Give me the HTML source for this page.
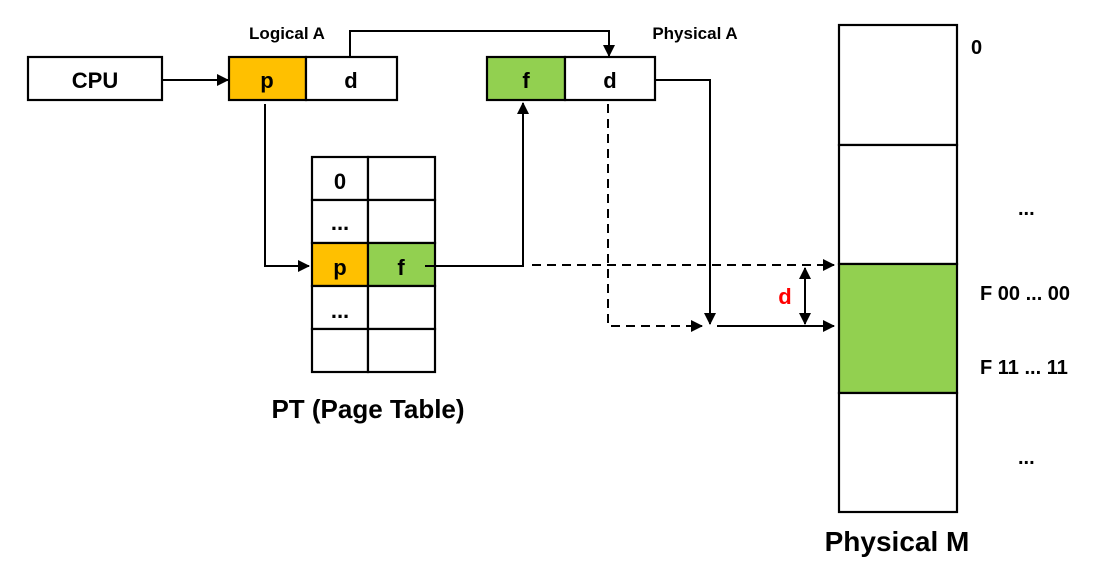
<!DOCTYPE html>
<html><head><meta charset="utf-8"><style>
html,body{margin:0;padding:0;background:#fff;}
svg text{font-family:"Liberation Sans","Noto Sans CJK KR",sans-serif;font-weight:bold;fill:#000;}
</style></head><body>
<svg width="1111" height="572" viewBox="0 0 1111 572" xmlns="http://www.w3.org/2000/svg">
<defs>
<marker id="ar" markerWidth="12" markerHeight="12" refX="11" refY="6" orient="auto" markerUnits="userSpaceOnUse"><path d="M0,0 L12,6 L0,12 Z" fill="#000"/></marker>
<marker id="ars" markerWidth="12" markerHeight="12" refX="1" refY="6" orient="auto" markerUnits="userSpaceOnUse"><path d="M12,0 L0,6 L12,12 Z" fill="#000"/></marker>
</defs>
<g stroke="#000" stroke-width="2.2" fill="#fff">
<rect x="28" y="57" width="134" height="43"/>
<rect x="229" y="57" width="77" height="43" fill="#ffc000"/>
<rect x="306" y="57" width="91" height="43"/>
<rect x="487" y="57" width="78" height="43" fill="#92d050"/>
<rect x="565" y="57" width="90" height="43"/>
<rect x="312" y="157" width="56" height="43"/><rect x="368" y="157" width="67" height="43"/>
<rect x="312" y="200" width="56" height="43"/><rect x="368" y="200" width="67" height="43"/>
<rect x="312" y="243" width="56" height="43" fill="#ffc000"/><rect x="368" y="243" width="67" height="43" fill="#92d050"/>
<rect x="312" y="286" width="56" height="43"/><rect x="368" y="286" width="67" height="43"/>
<rect x="312" y="329" width="56" height="43"/><rect x="368" y="329" width="67" height="43"/>
<rect x="839" y="25" width="118" height="120"/>
<rect x="839" y="145" width="118" height="119"/>
<rect x="839" y="264" width="118" height="129" fill="#92d050"/>
<rect x="839" y="393" width="118" height="119"/>
</g>
<g stroke="#000" stroke-width="2" fill="none">
<line x1="162" y1="80" x2="228" y2="80" marker-end="url(#ar)"/>
<polyline points="350,56 350,31 609,31 609,56" marker-end="url(#ar)"/>
<polyline points="265,104 265,266 309,266" marker-end="url(#ar)"/>
<polyline points="425,266 523,266 523,103" marker-end="url(#ar)"/>
<line x1="532" y1="265" x2="834" y2="265" stroke-dasharray="9,6" marker-end="url(#ar)"/>
<polyline points="608,104 608,326 702,326" stroke-dasharray="9,6" marker-end="url(#ar)"/>
<polyline points="655,80 710,80 710,324" marker-end="url(#ar)"/>
<line x1="717" y1="326" x2="834" y2="326" marker-end="url(#ar)"/>
<line x1="805" y1="268" x2="805" y2="324" marker-start="url(#ars)" marker-end="url(#ar)"/>
</g>
<g font-size="22" text-anchor="middle">
<text x="95" y="88">CPU</text>
<text x="267" y="88">p</text>
<text x="351" y="88">d</text>
<text x="526" y="88">f</text>
<text x="610" y="88">d</text>
<text x="340" y="189">0</text>
<text x="340" y="230">...</text>
<text x="340" y="275">p</text>
<text x="401" y="275">f</text>
<text x="340" y="318">...</text>
</g>
<g font-size="17" text-anchor="middle">
<text x="287" y="39">Logical A</text>
<text x="695" y="39">Physical A</text>
</g>
<text x="368" y="418" font-size="26" text-anchor="middle">PT (Page Table)</text>
<text x="897" y="551" font-size="28" text-anchor="middle">Physical M</text>
<g font-size="20">
<text x="971" y="54">0</text>
<text x="1018" y="215">...</text>
<text x="980" y="300">F 00 ... 00</text>
<text x="980" y="374">F 11 ... 11</text>
<text x="1018" y="464">...</text>
</g>
<text x="785" y="304" font-size="22" text-anchor="middle" style="fill:#ff0000">d</text>
</svg>
</body></html>
